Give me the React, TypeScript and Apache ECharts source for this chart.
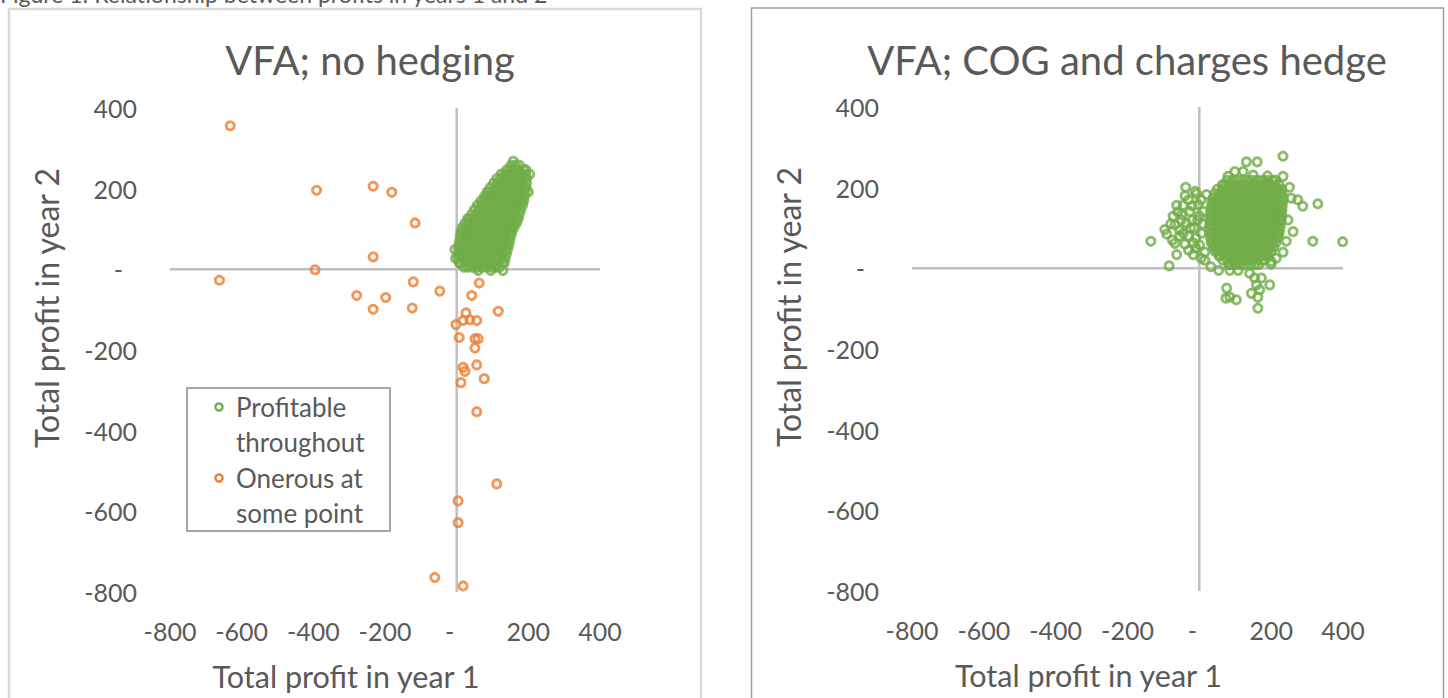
import React, { useEffect, useRef } from "react";
import * as echarts from "echarts";

// ---------- DATA ----------
const axisTicks = [-800, -600, -400, -200, 0, 200, 400];
const panelTitles = ["VFA; no hedging", "VFA; COG and charges hedge"];
const seriesNames = ["Profitable throughout", "Onerous at some point"];
const xAxisTitle = "Total profit in year 1";
const yAxisTitle = "Total profit in year 2";
const caption = "Figure 1: Relationship between profits in years 1 and 2";

// Left panel, "Onerous at some point" (year 1, year 2)
const noHedgeOnerous: number[][] = [
  [-632, 356], [-391, 196], [-233, 206], [-181, 191], [-116, 115], [-233, 31], [-395, -1],
  [-662, -27], [-121, -31], [-47, -54], [-279, -65], [-198, -70], [-233, -99], [-124, -96],
  [63, -34], [42, -65], [116, -104], [26, -108], [56, -127], [37, -125], [18, -127], [-2, -137],
  [7, -169], [51, -172], [60, -172], [51, -195], [56, -237], [18, -243], [23, -253], [77, -271],
  [12, -281], [56, -353], [112, -532], [4, -574], [4, -628], [-61, -764], [18, -785],
];

// Left panel, "Profitable throughout": rows of [year2, year1 values...]
const noHedgeProfitableRows: number[][] = [
  [-3, 60, 95, 129],
  [5, 20, 31, 44, 57, 70, 83, 96, 109, 120],
  [16, 8, 11, 24, 37, 50, 63, 76, 89, 102, 115, 128, 133],
  [27, -3, 5, 18, 31, 44, 57, 70, 83, 96, 109, 122, 135],
  [38, 5, 11, 24, 37, 50, 63, 76, 89, 102, 115, 128, 139],
  [49, -5, 5, 18, 31, 44, 57, 70, 83, 96, 109, 122, 135, 142],
  [60, 6, 11, 24, 37, 50, 63, 76, 89, 102, 115, 128, 141, 145],
  [71, 8, 18, 31, 44, 57, 70, 83, 96, 109, 122, 135, 148],
  [82, 10, 24, 37, 50, 63, 76, 89, 102, 115, 128, 141, 151],
  [93, 12, 18, 31, 44, 57, 70, 83, 96, 109, 122, 135, 148, 154],
  [104, 16, 24, 37, 50, 63, 76, 89, 102, 115, 128, 141, 154, 160],
  [115, 23, 31, 44, 57, 70, 83, 96, 109, 122, 135, 148, 161, 167],
  [126, 31, 37, 50, 63, 76, 89, 102, 115, 128, 141, 154, 167, 172],
  [137, 42, 57, 70, 83, 96, 109, 122, 135, 148, 161, 175],
  [148, 50, 63, 76, 89, 102, 115, 128, 141, 154, 167, 179],
  [159, 58, 70, 83, 96, 109, 122, 135, 148, 161, 174, 184],
  [170, 68, 76, 89, 102, 115, 128, 141, 154, 167, 180, 187],
  [181, 78, 83, 96, 109, 122, 135, 148, 161, 174, 189],
  [192, 85, 89, 102, 115, 128, 141, 154, 167, 180, 191, 200],
  [203, 94, 109, 122, 135, 148, 161, 174, 187, 193],
  [214, 103, 115, 128, 141, 154, 167, 180, 195],
  [225, 112, 122, 135, 148, 161, 174, 187, 195],
  [236, 124, 133, 141, 154, 167, 180, 193, 204],
  [247, 140, 148, 161, 174, 187, 193],
  [258, 152, 164, 175],
  [268, 158],
];

// Right panel, all "Profitable throughout": dense core rows of [year2, year1 values...]
const cogHedgeCoreRows: number[][] = [
  [218, 78, 92, 106, 120, 134, 148, 162, 176, 190, 204, 212],
  [207, 64, 71, 85, 99, 113, 127, 141, 155, 169, 183, 197, 211, 222],
  [196, 50, 64, 78, 92, 106, 120, 134, 148, 162, 176, 190, 204, 218, 228],
  [185, 43, 57, 71, 85, 99, 113, 127, 141, 155, 169, 183, 197, 211, 225, 231],
  [174, 38, 50, 64, 78, 92, 106, 120, 134, 148, 162, 176, 190, 204, 218, 233],
  [163, 35, 43, 57, 71, 85, 99, 113, 127, 141, 155, 169, 183, 197, 211, 225, 232],
  [152, 33, 36, 50, 64, 78, 92, 106, 120, 134, 148, 162, 176, 190, 204, 218, 231],
  [141, 32, 43, 57, 71, 85, 99, 113, 127, 141, 155, 169, 183, 197, 211, 225, 230],
  [130, 31, 36, 50, 64, 78, 92, 106, 120, 134, 148, 162, 176, 190, 204, 218, 229],
  [119, 30, 43, 57, 71, 85, 99, 113, 127, 141, 155, 169, 183, 197, 211, 225, 228],
  [108, 29, 36, 50, 64, 78, 92, 106, 120, 134, 148, 162, 176, 190, 204, 218, 226],
  [97, 29, 43, 57, 71, 85, 99, 113, 127, 141, 155, 169, 183, 197, 211, 224],
  [86, 30, 36, 50, 64, 78, 92, 106, 120, 134, 148, 162, 176, 190, 204, 218, 222],
  [75, 31, 43, 57, 71, 85, 99, 113, 127, 141, 155, 169, 183, 197, 211, 218],
  [64, 33, 36, 50, 64, 78, 92, 106, 120, 134, 148, 162, 176, 190, 204, 214],
  [53, 38, 43, 57, 71, 85, 99, 113, 127, 141, 155, 169, 183, 197, 208],
  [42, 44, 50, 64, 78, 92, 106, 120, 134, 148, 162, 176, 190, 200],
  [31, 55, 57, 71, 85, 99, 113, 127, 141, 155, 169, 183, 190],
  [20, 66, 78, 92, 106, 120, 134, 148, 162, 176, 182],
  [9, 82, 85, 99, 113, 127, 141, 155, 165],
];

// Right panel, scattered outer points (year 1, year 2)
const cogHedgeOuter: number[][] = [
  [233, 278], [131, 264], [161, 264], [99, 240], [122, 240], [80, 228], [150, 231], [190, 229],
  [-38, 201], [-12, 191], [20, 183], [-8, 185], [-40, 180], [-63, 156], [-45, 156], [-20, 155],
  [-73, 129], [-49, 133], [-26, 141], [-60, 140], [0, 130], [-68, 108], [-80, 110], [-50, 120],
  [-96, 96], [-91, 85], [-55, 95], [-25, 100], [-45, 87], [-135, 67], [-68, 62], [-75, 70],
  [-63, 34], [-17, 34], [-84, 6], [-17, 63], [-15, 100], [-36, 112], [-3, 158], [11, 141],
  [6, 87], [1, 58], [-30, 170], [-20, 120], [-5, 120], [-30, 80], [10, 110], [5, 170],
  [-10, 75], [15, 40], [-40, 60], [-55, 80], [-10, 50], [-30, 45], [15, 20], [5, 25],
  [32, 4], [54, -5], [85, -5], [108, -5], [140, -12], [154, -24], [173, -24], [159, -41],
  [196, -41], [145, -62], [168, -53], [163, -72], [76, -49], [74, -74], [103, -78], [85, -71],
  [163, -99], [200, 17], [214, 25], [233, 40], [242, 67], [261, 91], [247, 120], [288, 154],
  [274, 170], [256, 174], [251, 201], [233, 228], [316, 67], [200, 10], [330, 160], [399, 66],
];

// ---------- STYLE ----------
const GREEN = "#70ad47";
const ORANGE = "#ed7d31";
const TEXT = "#595959";
const FONT = "Lato, 'Open Sans', sans-serif";

function rowsToPoints(rows: number[][]): number[][] {
  const out: number[][] = [];
  rows.forEach((r) => {
    const y = r[0];
    for (let i = 1; i < r.length; i++) out.push([r[i], y]);
  });
  return out;
}

function makeAxes(gridIndex: number) {
  const labelStyle = { fontFamily: FONT, fontSize: 25, color: TEXT };
  const label = {
    ...labelStyle,
    formatter: (v: number) => (v === 0 ? "{d|-}" : String(v)),
    rich: { d: { ...labelStyle, padding: [0, 14, 0, 0] } },
  };
  const base = {
    gridIndex,
    type: "value",
    min: axisTicks[0],
    max: axisTicks[axisTicks.length - 1],
    interval: 200,
    axisLine: { show: false, onZero: false },
    axisTick: { show: false },
    splitLine: { show: false },
  };
  const x = {
    ...base,
    axisLabel: { ...label, margin: 26 },
    name: xAxisTitle,
    nameLocation: "middle",
    nameGap: 68,
    nameTextStyle: { fontFamily: FONT, fontSize: 30.5, color: TEXT, padding: [0, 78, 0, 0] },
  };
  const y = {
    ...base,
    axisLabel: { ...label, margin: 33 },
    name: yAxisTitle,
    nameLocation: "middle",
    nameRotate: 90,
    nameGap: 108,
    nameTextStyle: { fontFamily: FONT, fontSize: 32, color: TEXT, padding: [0, 0, 0, 84] },
  };
  return { x, y };
}

function zeroLines(idx: number) {
  const common = {
    type: "line",
    xAxisIndex: idx,
    yAxisIndex: idx,
    symbol: "none",
    silent: true,
    z: 1,
    lineStyle: { color: "#bfbfbf", width: 2.5 },
  };
  return [
    { ...common, data: [[0, axisTicks[0]], [0, axisTicks[axisTicks.length - 1]]] },
    { ...common, data: [[axisTicks[0], 0], [axisTicks[axisTicks.length - 1], 0]] },
  ];
}

function ring(color: string) {
  return { color: "rgba(0,0,0,0)", borderColor: color, borderWidth: 2.9 };
}

export default function App() {
  const ref = useRef<HTMLDivElement>(null);
  useEffect(() => {
    document.body.style.margin = "0";
    if (!ref.current) return;
    const chart = echarts.init(ref.current, undefined, { renderer: "svg" });
    const a0 = makeAxes(0);
    const a1 = makeAxes(1);
    const titleStyle = { fontFamily: FONT, fontSize: 40, fontWeight: "normal", color: TEXT };
    const legendText = { fontFamily: FONT, fontSize: 26, lineHeight: 35, fill: TEXT, verticalAlign: "top" };
    const scatterBase = { type: "scatter", symbol: "circle", symbolSize: 8.2 };
    chart.setOption({
      animation: false,
      backgroundColor: "#ffffff",
      title: [
        { text: panelTitles[0], left: 370, top: 40, textAlign: "center", padding: 0, textStyle: titleStyle },
        { text: panelTitles[1], left: 1127, top: 40, textAlign: "center", padding: 0, textStyle: titleStyle },
      ],
      grid: [
        { left: 170, top: 108, width: 430, height: 484 },
        { left: 912, top: 107, width: 431, height: 484 },
      ],
      xAxis: [a0.x, a1.x],
      yAxis: [a0.y, a1.y],
      graphic: [
        {
          type: "text",
          left: 0,
          top: -18,
          style: { text: caption, fontFamily: FONT, fontSize: 23, fill: TEXT },
        },
        {
          type: "rect",
          shape: { x: 9, y: 9, width: 692, height: 700 },
          style: { fill: "none", stroke: "#d9d9d9", lineWidth: 2.5 },
        },
        {
          type: "rect",
          shape: { x: 751.5, y: 8, width: 692, height: 700 },
          style: { fill: "none", stroke: "#a0a0a0", lineWidth: 1.5 },
        },
        {
          type: "rect",
          shape: { x: 187, y: 388, width: 203, height: 143 },
          style: { fill: "#ffffff", stroke: "#a6a6a6", lineWidth: 2 },
          z: 10,
        },
        {
          type: "circle",
          shape: { cx: 219, cy: 407, r: 3.6 },
          style: { fill: "none", stroke: GREEN, lineWidth: 2.4 },
          z: 11,
        },
        {
          type: "circle",
          shape: { cx: 219, cy: 478, r: 3.6 },
          style: { fill: "none", stroke: ORANGE, lineWidth: 2.4 },
          z: 11,
        },
        { type: "text", x: 236, y: 389.5, z: 11, style: { ...legendText, text: "Profitable\nthroughout" } },
        { type: "text", x: 236, y: 460.5, z: 11, style: { ...legendText, text: "Onerous at\nsome point" } },
      ],
      series: [
        ...zeroLines(0),
        ...zeroLines(1),
        {
          ...scatterBase,
          name: seriesNames[0],
          xAxisIndex: 0,
          yAxisIndex: 0,
          itemStyle: ring(GREEN),
          data: rowsToPoints(noHedgeProfitableRows),
          z: 2,
        },
        {
          ...scatterBase,
          name: seriesNames[1],
          xAxisIndex: 0,
          yAxisIndex: 0,
          itemStyle: ring(ORANGE),
          data: noHedgeOnerous,
          z: 3,
        },
        {
          ...scatterBase,
          name: seriesNames[0] + " (hedged)",
          xAxisIndex: 1,
          yAxisIndex: 1,
          itemStyle: ring(GREEN),
          data: [...rowsToPoints(cogHedgeCoreRows), ...cogHedgeOuter],
          z: 2,
        },
      ],
    });
    return () => chart.dispose();
  }, []);
  return <div ref={ref} style={{ width: 1448, height: 698 }} />;
}
